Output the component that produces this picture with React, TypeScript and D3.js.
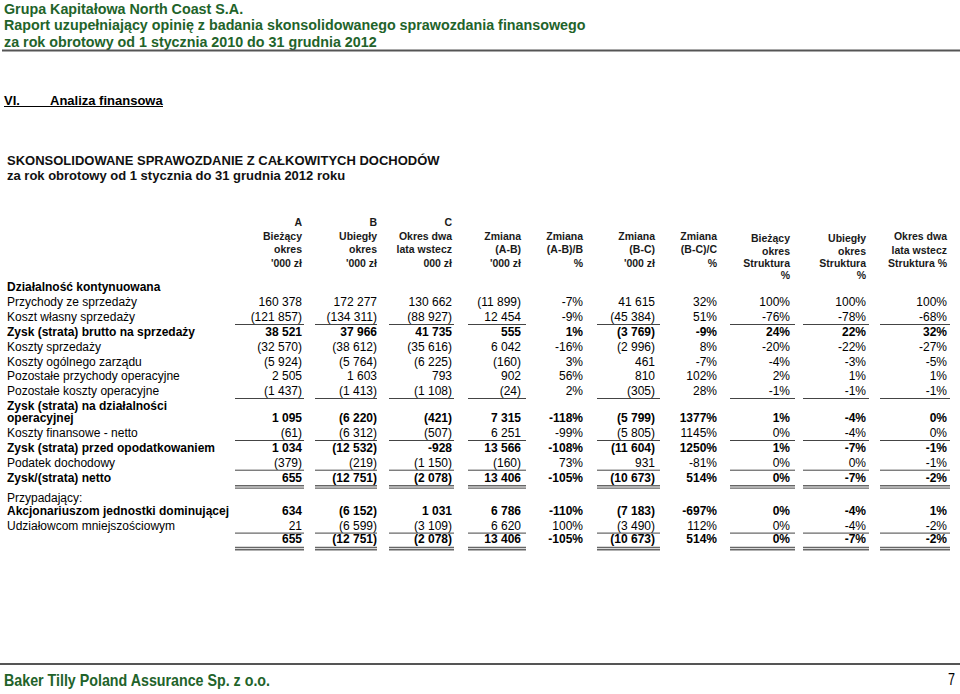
import React from "react";
import * as d3 from "d3";

// ---------- DATA ----------
const titleLines = [
  "Grupa Kapitałowa North Coast S.A.",
  "Raport uzupełniający opinię z badania skonsolidowanego sprawozdania finansowego",
  "za rok obrotowy od 1 stycznia 2010 do 31 grudnia 2012",
];
const sectionNo = "VI.";
const sectionTitle = "Analiza finansowa";
const statementTitle = "SKONSOLIDOWANE SPRAWOZDANIE Z CAŁKOWITYCH DOCHODÓW";
const statementPeriod = "za rok obrotowy od 1 stycznia do 31 grudnia 2012 roku";
const footerText = "Baker Tilly Poland Assurance Sp. z o.o.";
const pageNo = "7";

const columnKeys = ["A", "B", "C", "AB", "ABp", "BC", "BCp", "SA", "SB", "SC"];
const headerA = ["A", "Bieżący", "okres", "'000 zł"];
const headerB = ["B", "Ubiegły", "okres", "'000 zł"];
const headerC = ["C", "Okres dwa", "lata wstecz", "000 zł"];
const headerAB = ["Zmiana", "(A-B)", "'000 zł"];
const headerABp = ["Zmiana", "(A-B)/B", "%"];
const headerBC = ["Zmiana", "(B-C)", "'000 zł"];
const headerBCp = ["Zmiana", "(B-C)/C", "%"];
const headerSA = ["Bieżący", "okres", "Struktura", "%"];
const headerSB = ["Ubiegły", "okres", "Struktura", "%"];
const headerSC = ["Okres dwa", "lata wstecz", "Struktura %"];

const rowLabels = [
  "Działalność kontynuowana",
  "Przychody ze sprzedaży",
  "Koszt własny sprzedaży",
  "Zysk (strata) brutto na sprzedaży",
  "Koszty sprzedaży",
  "Koszty ogólnego zarządu",
  "Pozostałe przychody operacyjne",
  "Pozostałe koszty operacyjne",
  "Zysk (strata) na działalności",
  "operacyjnej",
  "Koszty finansowe - netto",
  "Zysk (strata) przed opodatkowaniem",
  "Podatek dochodowy",
  "Zysk/(strata) netto",
  "Przypadający:",
  "Akcjonariuszom jednostki dominującej",
  "Udziałowcom mniejszościowym",
  "",
];
const boldRows = [true, false, false, true, false, false, false, false, true, true, false, true, false, true, false, true, false, true];
const ruleType = ["", "", "single", "", "", "", "", "single", "", "", "single", "", "single", "double", "", "", "single", "double"];

const colA = ["", "160 378", "(121 857)", "38 521", "(32 570)", "(5 924)", "2 505", "(1 437)", "", "1 095", "(61)", "1 034", "(379)", "655", "", "634", "21", "655"];
const colB = ["", "172 277", "(134 311)", "37 966", "(38 612)", "(5 764)", "1 603", "(1 413)", "", "(6 220)", "(6 312)", "(12 532)", "(219)", "(12 751)", "", "(6 152)", "(6 599)", "(12 751)"];
const colC = ["", "130 662", "(88 927)", "41 735", "(35 616)", "(6 225)", "793", "(1 108)", "", "(421)", "(507)", "-928", "(1 150)", "(2 078)", "", "1 031", "(3 109)", "(2 078)"];
const colAB = ["", "(11 899)", "12 454", "555", "6 042", "(160)", "902", "(24)", "", "7 315", "6 251", "13 566", "(160)", "13 406", "", "6 786", "6 620", "13 406"];
const colABp = ["", "-7%", "-9%", "1%", "-16%", "3%", "56%", "2%", "", "-118%", "-99%", "-108%", "73%", "-105%", "", "-110%", "100%", "-105%"];
const colBC = ["", "41 615", "(45 384)", "(3 769)", "(2 996)", "461", "810", "(305)", "", "(5 799)", "(5 805)", "(11 604)", "931", "(10 673)", "", "(7 183)", "(3 490)", "(10 673)"];
const colBCp = ["", "32%", "51%", "-9%", "8%", "-7%", "102%", "28%", "", "1377%", "1145%", "1250%", "-81%", "514%", "", "-697%", "112%", "514%"];
const colSA = ["", "100%", "-76%", "24%", "-20%", "-4%", "2%", "-1%", "", "1%", "0%", "1%", "0%", "0%", "", "0%", "0%", "0%"];
const colSB = ["", "100%", "-78%", "22%", "-22%", "-3%", "1%", "-1%", "", "-4%", "-4%", "-7%", "0%", "-7%", "", "-4%", "-4%", "-7%"];
const colSC = ["", "100%", "-68%", "32%", "-27%", "-5%", "1%", "-1%", "", "0%", "0%", "-1%", "-1%", "-2%", "", "1%", "-2%", "-2%"];

// ---------- LAYOUT ----------
const W = 960;
const H = 694;
const FONT = "'Liberation Sans', Arial, Helvetica, sans-serif";
const GREEN = "#22632a";

const columns = [colA, colB, colC, colAB, colABp, colBC, colBCp, colSA, colSB, colSC];
const headers = [headerA, headerB, headerC, headerAB, headerABp, headerBC, headerBCp, headerSA, headerSB, headerSC];

const colRight = d3.scaleOrdinal<string, number>()
  .domain(columnKeys)
  .range([302, 377, 452, 521, 583, 655, 717, 790, 866, 947]);
const ruledCols = ["A", "B", "C", "AB", "BC", "SA", "SB", "SC"];
const ruleLeft = d3.scaleOrdinal<string, number>()
  .domain(ruledCols)
  .range([235, 315, 389, 468, 597, 730, 803, 880]);
const ruleRight = d3.scaleOrdinal<string, number>()
  .domain(ruledCols)
  .range([304, 377, 454, 526, 660, 795, 869, 950]);

const rowY = d3.scaleOrdinal<number, number>()
  .domain(d3.range(rowLabels.length))
  .range([291, 306, 321, 335.8, 350.7, 365.5, 380.4, 395, 409.5, 422.2, 437, 452, 466.7, 481.5, 501.5, 515.2, 529.6, 543.2]);

const headerStart = (key: string) => {
  if (key === "A" || key === "B" || key === "C") return [226, 239.5, 253, 266.5];
  if (key === "SA" || key === "SB") return [242, 254.7, 267, 279.2];
  if (key === "SC") return [239.5, 254, 266.5];
  return [239.5, 253, 266.5];
};

export default function App() {
  return (
    <svg
      width={W}
      height={H}
      viewBox={`0 0 ${W} ${H}`}
      style={{ position: "absolute", left: 0, top: 0, background: "#fff" }}
      fontFamily={FONT}
    >
      <rect x={0} y={0} width={W} height={H} fill="#fff" />
      {/* page header */}
      {titleLines.map((t, i) => (
        <text key={i} x={4} y={13.5 + i * 16.6} fontSize={14.3} fontWeight="bold" fill={GREEN}>
          {t}
        </text>
      ))}
      <line x1={2} x2={W} y1={50.5} y2={50.5} stroke="#555" strokeWidth={1.8} />

      {/* section */}
      <text x={4} y={104.5} fontSize={13} fontWeight="bold" fill="#000">{sectionNo}</text>
      <text x={50} y={104.5} fontSize={13} fontWeight="bold" fill="#000">{sectionTitle}</text>
      <line x1={4} x2={163} y1={106.5} y2={106.5} stroke="#000" strokeWidth={1.2} />

      <text x={7} y={164.5} fontSize={13} fontWeight="bold" fill="#111">{statementTitle}</text>
      <text x={7} y={180} fontSize={13} fontWeight="bold" fill="#111">{statementPeriod}</text>

      {/* column headers */}
      {columnKeys.map((k, ci) => {
        const ys = headerStart(k);
        return headers[ci].map((h, hi) => (
          <text
            key={k + hi}
            x={colRight(k)}
            y={ys[hi]}
            textAnchor="end"
            fontSize={10.5}
            fontWeight="bold"
            fill="#1a1a1a"
          >
            {h}
          </text>
        ));
      })}

      {/* row labels */}
      {rowLabels.map((l, ri) => (
        <text
          key={"l" + ri}
          x={7}
          y={rowY(ri)}
          fontSize={12}
          fontWeight={boldRows[ri] ? "bold" : "normal"}
          fill="#000"
        >
          {l}
        </text>
      ))}

      {/* values */}
      {columns.map((col, ci) =>
        col.map((v, ri) =>
          v ? (
            <text
              key={ci + "-" + ri}
              x={colRight(columnKeys[ci])}
              y={rowY(ri)}
              textAnchor="end"
              fontSize={12}
              fontWeight={boldRows[ri] ? "bold" : "normal"}
              fill="#000"
            >
              {v}
            </text>
          ) : null
        )
      )}

      {/* rules */}
      {ruleType.map((rt, ri) => {
        if (!rt) return null;
        const y = rowY(ri);
        return ruledCols.map((k) =>
          rt === "single" ? (
            <line key={"r" + ri + k} x1={ruleLeft(k)} x2={ruleRight(k)} y1={y + 3.5} y2={y + 3.5} stroke="#444" strokeWidth={1} />
          ) : (
            <g key={"r" + ri + k}>
              <line x1={ruleLeft(k)} x2={ruleRight(k)} y1={y + 4.3} y2={y + 4.3} stroke="#666" strokeWidth={1.4} />
              <line x1={ruleLeft(k)} x2={ruleRight(k)} y1={y + 6.6} y2={y + 6.6} stroke="#666" strokeWidth={1.4} />
            </g>
          )
        );
      })}

      {/* footer */}
      <line x1={0} x2={W} y1={664} y2={664} stroke="#555" strokeWidth={1.8} />
      <text x={4} y={686} fontSize={17} fontWeight="bold" fill={GREEN} textLength={266} lengthAdjust="spacingAndGlyphs">
        {footerText}
      </text>
      <text x={955} y={685} fontSize={17} textAnchor="end" fill="#000" textLength={7} lengthAdjust="spacingAndGlyphs">
        {pageNo}
      </text>
    </svg>
  );
}
